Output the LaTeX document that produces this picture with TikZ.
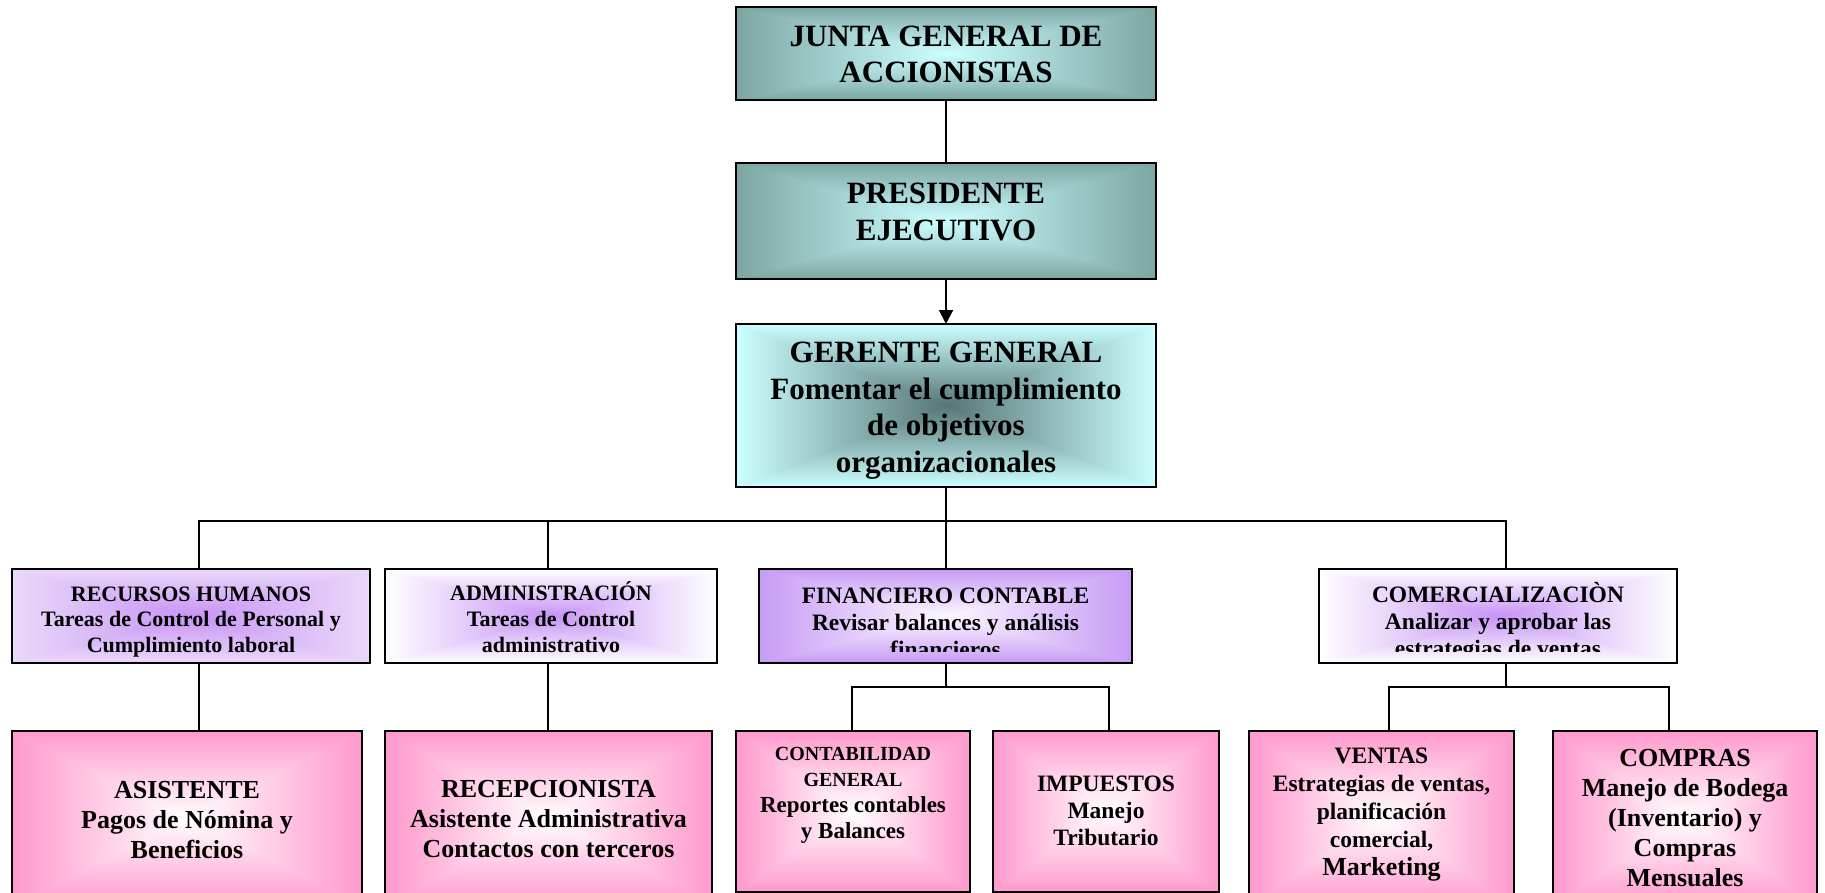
\documentclass[tikz,border=0pt]{standalone}
\usepackage{fontspec}
\setmainfont{Liberation Serif}
\usetikzlibrary{arrows.meta}

% Rectangular "from centre" gradient: inner colour (#2,#3,#4) in the middle,
% outer colour (#5,#6,#7) on the border, linear in max(|dx|,|dy|).
\newcommand\rectshade[7]{%
  \pgfdeclarefunctionalshading{#1}{\pgfpointorigin}{\pgfpoint{100bp}{100bp}}{}{%
    50 sub abs exch 50 sub abs 2 copy lt {exch} if pop
    25 div dup 1 gt {pop 1} if
    dup #5 #2 sub mul #2 add exch
    dup #6 #3 sub mul #3 add exch
    #7 #4 sub mul #4 add
  }}
\rectshade{tealbox}{0.80}{1}{1}{0.49}{0.65}{0.64}
\rectshade{gerbox}{0.34}{0.46}{0.46}{0.80}{1}{1}
\rectshade{lilacbox}{0.78}{0.58}{0.96}{0.92}{0.85}{0.98}
\rectshade{whitelilac}{0.78}{0.58}{0.96}{1}{1}{1}
\rectshade{violetbox}{0.99}{0.97}{1}{0.78}{0.61}{0.96}
\rectshade{pinkbox}{1}{1}{1}{1}{0.60}{0.80}

\begin{document}
\begin{tikzpicture}[x=1pt,y=-1pt,
  box/.style={draw=black,line width=2.2pt,inner sep=0pt,outer sep=0pt,shade},
  link/.style={draw=black,line width=2pt},
  arrowlink/.style={link,-{Triangle[length=14pt,width=14pt]}},
  lbl/.style={align=center,inner sep=0pt,font=\bfseries},
  bigtxt/.style={lbl,font=\bfseries\fontsize{31}{36.5}\selectfont},
  midtxt/.style={lbl,font=\bfseries\fontsize{22}{25.8}\selectfont},
  bottxt/.style={lbl,font=\bfseries\fontsize{26}{29.8}\selectfont},
  smalltxt/.style={lbl,font=\bfseries\fontsize{23.5}{27}\selectfont}]
\useasboundingbox (0,0) rectangle (1825,893);

% ---- top of the hierarchy
\node[box,shading=tealbox,minimum width=420pt,minimum height=93pt] (junta) at (946,53.5) {};
\node[box,shading=tealbox,minimum width=420pt,minimum height=116pt] (pres) at (946,221) {};
\node[box,shading=gerbox,minimum width=420pt,minimum height=163pt] (ger) at (946,405.5) {};

% ---- departments
\node[box,shading=lilacbox,minimum width=358pt,minimum height=94pt] (rh) at (191,616) {};
\node[box,shading=whitelilac,minimum width=332pt,minimum height=94pt] (adm) at (551,616) {};
\node[box,shading=violetbox,minimum width=373pt,minimum height=94pt] (fin) at (945.5,616) {};
\node[box,shading=whitelilac,minimum width=358pt,minimum height=94pt] (com) at (1498,616) {};

% ---- sections
\node[box,shading=pinkbox,minimum width=350pt,minimum height=174pt] (asis) at (187,818) {};
\node[box,shading=pinkbox,minimum width=327pt,minimum height=174pt] (recep) at (548.5,818) {};
\node[box,shading=pinkbox,minimum width=234pt,minimum height=161pt] (contab) at (853,811.5) {};
\node[box,shading=pinkbox,minimum width=226pt,minimum height=161pt] (imp) at (1106,811.5) {};
\node[box,shading=pinkbox,minimum width=265pt,minimum height=174pt] (ventas) at (1381.5,818) {};
\node[box,shading=pinkbox,minimum width=264pt,minimum height=174pt] (compras) at (1685,818) {};

% ---- texts
\node[bigtxt] (juntaT) at ([yshift=-1pt]junta.center) {JUNTA GENERAL DE\\ACCIONISTAS};
\node[bigtxt] (presT) at ([yshift=9pt]pres.center) {PRESIDENTE\\EJECUTIVO};
\node[bigtxt] (gerT) at ([yshift=-5pt]ger.center) {GERENTE GENERAL\\Fomentar el cumplimiento\\de objetivos\\organizacionales};

\node[midtxt] (rhT) at ([yshift=-6pt]rh.center) {RECURSOS HUMANOS\\Tareas de Control de Personal y\\Cumplimiento laboral};
\node[midtxt] (admT) at ([yshift=-1pt]adm.center) {ADMINISTRACIÓN\\Tareas de Control\\administrativo};
\begin{scope}
  \clip (fin.north west) rectangle ([yshift=12pt]fin.south east);
  \node[smalltxt] (finT) at ([yshift=-6.5pt]fin.center) {FINANCIERO CONTABLE\\Revisar balances y análisis\\financieros};
\end{scope}
\begin{scope}
  \clip (com.north west) rectangle ([yshift=12pt]com.south east);
  \node[smalltxt] (comT) at ([yshift=-6.5pt]com.center) {COMERCIALIZACIÒN\\Analizar y aprobar las\\estrategias de ventas};
\end{scope}

\node[bottxt] (asisT) at ([yshift=-2pt]asis.center) {ASISTENTE\\Pagos de Nómina y\\Beneficios};
\node[bottxt] (recepT) at ([yshift=-1pt]recep.center) {RECEPCIONISTA\\Asistente Administrativa\\Contactos con terceros};
\node[lbl,font=\bfseries\fontsize{23}{26}\selectfont] (contabT) at ([yshift=16pt]contab.center)
  {{\fontsize{20}{25}\selectfont CONTABILIDAD}\\{\fontsize{20}{25}\selectfont GENERAL}\\Reportes contables\\y Balances};
\node[smalltxt] (impT) at ([yshift=1pt]imp.center) {IMPUESTOS\\Manejo\\Tributario};
\node[lbl,font=\bfseries\fontsize{23.5}{28}\selectfont] (ventasT) at ([yshift=3pt]ventas.center) {VENTAS\\Estrategias de ventas,\\planificación\\comercial,\\{\fontsize{26}{29}\selectfont Marketing}};
\node[bottxt] (comprasT) at (compras.center) {COMPRAS\\Manejo de Bodega\\(Inventario) y\\Compras\\Mensuales};

% ---- connectors
\draw[link] (junta.south) -- (pres.north);
\draw[arrowlink] (pres.south) -- (ger.north);

\draw[link] (ger.south) -- ++(0,34) -| ([xshift=8pt]rh.north);
\draw[link] (ger.south) -- ++(0,34) -| ([xshift=-3pt]adm.north);
\draw[link] (ger.south) -- (ger.south |- fin.north);
\draw[link] (ger.south) -- ++(0,34) -| ([xshift=8pt]com.north);

\draw[link] ([xshift=8pt]rh.south) -- ([xshift=12pt]asis.north);
\draw[link] ([xshift=-3pt]adm.south) -- ([xshift=-0.5pt]recep.north);

\draw[link] (ger.south |- fin.south) -- ++(0,24) -| ([xshift=-1pt]contab.north);
\draw[link] (ger.south |- fin.south) -- ++(0,24) -| ([xshift=3pt]imp.north);

\draw[link] ([xshift=8pt]com.south) -- ++(0,24) -| ([xshift=7.5pt]ventas.north);
\draw[link] ([xshift=8pt]com.south) -- ++(0,24) -| ([xshift=-16pt]compras.north);
\end{tikzpicture}
\end{document}
